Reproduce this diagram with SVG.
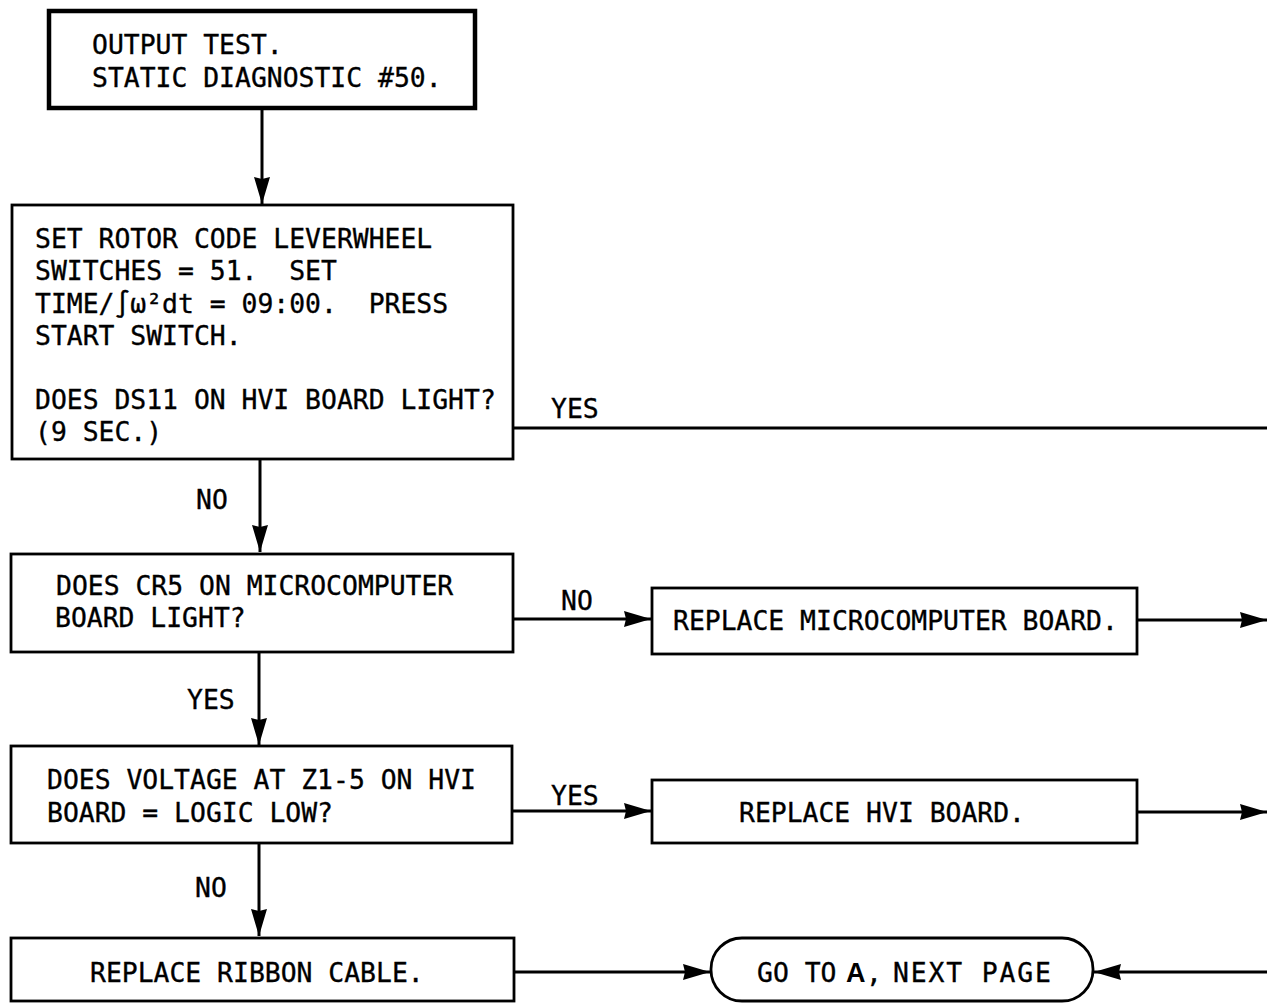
<svg xmlns="http://www.w3.org/2000/svg" width="1267" height="1004" viewBox="0 0 1267 1004">
<style>
.bx{fill:#fff;stroke:#000;stroke-width:2.8}
.bxt{fill:#fff;stroke:#000;stroke-width:4.5}
.t{font-family:"DejaVu Sans Mono","Liberation Mono",monospace;font-size:26.4px;fill:#000;stroke:#000;stroke-width:0.35;white-space:pre}
.c{fill:none;stroke:#000;stroke-width:3}
.b{font-family:"Liberation Sans",Arial,sans-serif;font-weight:bold;font-size:27px;fill:#000}
</style>
<defs>
<marker id="ah" markerUnits="userSpaceOnUse" markerWidth="28" markerHeight="20" refX="27" refY="10" orient="auto">
<path d="M0,2 L27,10 L0,18 L2,10 Z" fill="#000"/>
</marker>
</defs>
<rect width="1267" height="1004" fill="#fff"/>
<g id="connectors">
<path class="c" d="M262,109 V204" marker-end="url(#ah)"/>
<path class="c" d="M260,459 V552" marker-end="url(#ah)"/>
<path class="c" d="M259,653 V745" marker-end="url(#ah)"/>
<path class="c" d="M259,843 V936" marker-end="url(#ah)"/>
<path class="c" d="M514,428 H1267"/>
<path class="c" d="M514,619 H651" marker-end="url(#ah)"/>
<path class="c" d="M1137,620 H1267" marker-end="url(#ah)"/>
<path class="c" d="M512,811 H651" marker-end="url(#ah)"/>
<path class="c" d="M1137,812 H1267" marker-end="url(#ah)"/>
<path class="c" d="M514,972 H710" marker-end="url(#ah)"/>
<path class="c" d="M1267,972 H1094" marker-end="url(#ah)"/>
<text class="t" x="551" y="418">YES</text>
<text class="t" x="196" y="509">NO</text>
<text class="t" x="561" y="610">NO</text>
<text class="t" x="187" y="709">YES</text>
<text class="t" x="551" y="805">YES</text>
<text class="t" x="195" y="897">NO</text>
</g>
<g id="start">
<rect class="bxt" x="49" y="11" width="426" height="97"/>
<text class="t" x="92" y="54">OUTPUT TEST.</text>
<text class="t" x="92" y="87">STATIC DIAGNOSTIC #50.</text>
</g>
<g id="setrotor">
<rect class="bx" x="12" y="205" width="501" height="254"/>
<text class="t" x="35" y="248">SET ROTOR CODE LEVERWHEEL</text>
<text class="t" x="35" y="280">SWITCHES = 51.  SET</text>
<text class="t" x="35" y="313">TIME/∫ω²dt = 09:00.  PRESS</text>
<text class="t" x="35" y="345">START SWITCH.</text>
<text class="t" x="35" y="409">DOES DS11 ON HVI BOARD LIGHT?</text>
<text class="t" x="35" y="441">(9 SEC.)</text>
</g>
<g id="cr5">
<rect class="bx" x="11" y="554" width="502" height="98"/>
<text class="t" x="56" y="595">DOES CR5 ON MICROCOMPUTER</text>
<text class="t" x="55" y="627">BOARD LIGHT?</text>
</g>
<g id="replmicro">
<rect class="bx" x="652" y="588" width="485" height="66"/>
<text class="t" x="673" y="630">REPLACE MICROCOMPUTER BOARD.</text>
</g>
<g id="voltage">
<rect class="bx" x="11" y="746" width="501" height="97"/>
<text class="t" x="47" y="789">DOES VOLTAGE AT Z1-5 ON HVI</text>
<text class="t" x="47" y="822">BOARD = LOGIC LOW?</text>
</g>
<g id="replhvi">
<rect class="bx" x="652" y="780" width="485" height="63"/>
<text class="t" x="739" y="822">REPLACE HVI BOARD.</text>
</g>
<g id="replribbon">
<rect class="bx" x="11" y="938" width="503" height="63"/>
<text class="t" x="90" y="982">REPLACE RIBBON CABLE.</text>
</g>
<g id="goto">
<rect class="bx" x="711" y="938" width="382" height="63" rx="31" ry="31"/>
<text class="t" x="757" y="982">GO TO</text>
<text class="b" x="846" y="982">A</text>
<text class="t" x="866" y="982">,</text>
<text class="t" x="893" y="982" textLength="158" lengthAdjust="spacing">NEXT PAGE</text>
</g>
</svg>
